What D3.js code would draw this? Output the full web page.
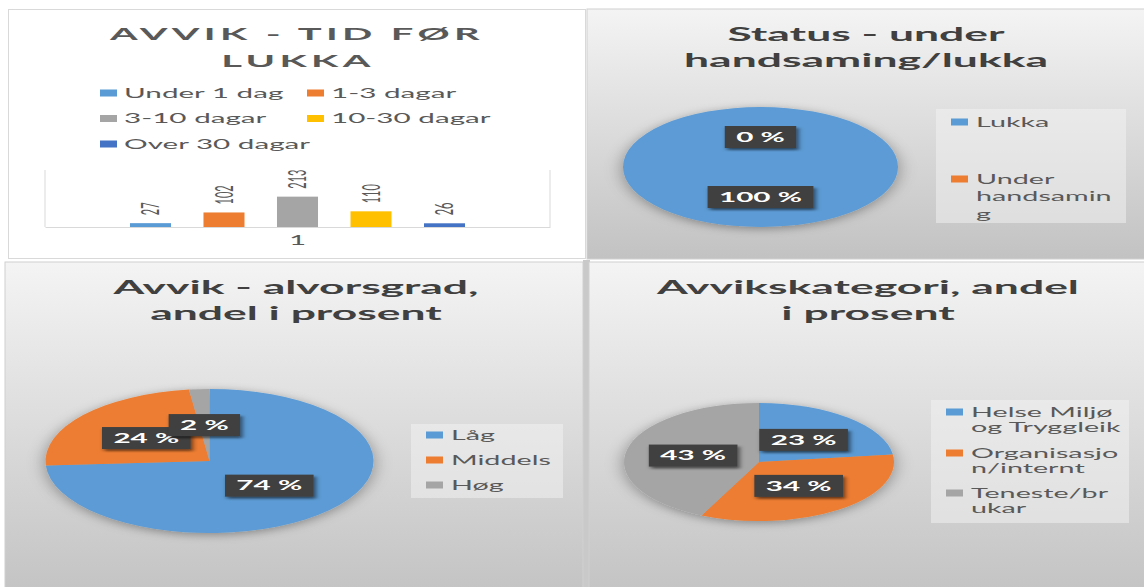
<!DOCTYPE html>
<html>
<head>
<meta charset="utf-8">
<script src="https://cdn.jsdelivr.net/npm/d3@7"></script>
<style>
  html, body { margin: 0; padding: 0; background: #ffffff; }
  svg { display: block; font-family: Lato, "Open Sans", sans-serif; }
</style>
</head>
<body>
<div id="chart"></div>
<script>
// --- data ---
const barCategory = ['1'];
const barSeries = ['Under 1 dag', '1-3 dagar', '3-10 dagar', '10-30 dagar', 'Over 30 dagar'];
const barValues = [27, 102, 213, 110, 26];
const barColors = ['#5B9BD5', '#ED7D31', '#A5A5A5', '#FFC000', '#4472C4'];

const statusLabels = ['Lukka', 'Under handsaming'];
const statusValues = [100, 0];
const statusLegendLines = [['Lukka'], ['Under', 'handsamin', 'g']];

const severityLabels = ['Låg', 'Middels', 'Høg'];
const severityValues = [74, 24, 2];
const severityLegendLines = [['Låg'], ['Middels'], ['Høg']];

const categoryLabels = ['Helse Miljø og Tryggleik', 'Organisasjon/internt', 'Teneste/brukar'];
const categoryValues = [23, 34, 43];
const categoryLegendLines = [['Helse Miljø', 'og Tryggleik'], ['Organisasjo', 'n/internt'], ['Teneste/br', 'ukar']];

const pieColors = ['#5B9BD5', '#ED7D31', '#A5A5A5'];

// the picture is stretched sideways, so text and pies get the same stretch
const SX = 2.28;
const W = 1144, H = 587;

const svg = d3.select('#chart').append('svg')
    .attr('width', W)
    .attr('height', H);

const defs = svg.append('defs');

const grad = defs.append('linearGradient')
    .attr('id', 'panelGrad')
    .attr('x1', 0).attr('y1', 0).attr('x2', 0).attr('y2', 1);
grad.append('stop').attr('offset', '0%').attr('stop-color', '#f4f4f4');
grad.append('stop').attr('offset', '100%').attr('stop-color', '#c2c2c2');

const pieShadow = defs.append('filter').attr('id', 'pieShadow')
    .attr('x', '-20%').attr('y', '-20%').attr('width', '140%').attr('height', '150%');
pieShadow.append('feDropShadow')
    .attr('dx', 0).attr('dy', 2).attr('stdDeviation', 4)
    .attr('flood-color', '#000').attr('flood-opacity', 0.35);

const boxShadow = defs.append('filter').attr('id', 'boxShadow')
    .attr('x', '-20%').attr('y', '-30%').attr('width', '150%').attr('height', '180%');
boxShadow.append('feDropShadow')
    .attr('dx', 1).attr('dy', 2).attr('stdDeviation', 1.2)
    .attr('flood-color', '#000').attr('flood-opacity', 0.55);

// --- panels ---
svg.append('rect').attr('x', 583).attr('y', 260).attr('width', 7).attr('height', 340).attr('fill', '#c9c9c9');

svg.append('rect')
    .attr('x', 8.5).attr('y', 9.5).attr('width', 577).attr('height', 249)
    .attr('fill', '#ffffff').attr('stroke', '#d9d9d9');

[
    { x: 587, y: 9, w: 570, h: 250 },
    { x: 5, y: 262, w: 578, h: 340 },
    { x: 589, y: 262, w: 570, h: 340 }
].forEach(p => {
    svg.append('rect')
        .attr('x', p.x).attr('y', p.y).attr('width', p.w).attr('height', p.h)
        .attr('fill', 'url(#panelGrad)')
        .attr('stroke', '#d0d0d0');
});

// text helper: stretched horizontally like the reference
function sText(parent, x, y, txt, opts = {}) {
    return parent.append('text')
        .attr('transform', `translate(${x},${y}) scale(${SX},1)`)
        .attr('text-anchor', opts.anchor || 'start')
        .attr('font-size', opts.size || 13)
        .attr('font-weight', opts.weight || 'normal')
        .attr('letter-spacing', opts.spacing || 0)
        .attr('fill', opts.fill || '#595959')
        .text(txt);
}

// --- panel 1: bar chart ---
const barG = svg.append('g').attr('class', 'bar-chart');

sText(barG, 297, 40, 'AVVIK - TID FØR', { anchor: 'middle', size: 17.5, spacing: 1.9, weight: 'bold' });
sText(barG, 298, 67, 'LUKKA', { anchor: 'middle', size: 17.5, spacing: 1.9, weight: 'bold' });

const barLegendX = [100, 307];
const barLegendY = [93, 118.5, 144];
barSeries.forEach((s, i) => {
    const lx = barLegendX[i % 2];
    const ly = barLegendY[Math.floor(i / 2)];
    barG.append('rect')
        .attr('x', lx).attr('y', ly - 3.5).attr('width', 17).attr('height', 7)
        .attr('fill', barColors[i]);
    sText(barG, lx + 24, ly + 4.5, s, { size: 13 });
});

const x0 = d3.scaleBand().domain(barCategory).range([45, 550]).paddingOuter(0.187);
const x1 = d3.scaleBand().domain(barSeries).range([0, x0.bandwidth()])
    .paddingInner(0.442).paddingOuter(0.221);
const y = d3.scaleLinear().domain([0, 400]).range([227, 170]);

// plot area side lines
x0.range().forEach(xv => {
    barG.append('line')
        .attr('x1', xv).attr('x2', xv)
        .attr('y1', y(400)).attr('y2', y(0))
        .attr('stroke', '#d9d9d9');
});

barG.selectAll('rect.bar')
    .data(barValues)
    .enter()
    .append('rect')
    .attr('class', 'bar')
    .attr('x', (d, i) => x0('1') + x1(barSeries[i]))
    .attr('y', d => y(d))
    .attr('width', x1.bandwidth())
    .attr('height', d => y(0) - y(d))
    .attr('fill', (d, i) => barColors[i]);

barG.selectAll('text.bar-label')
    .data(barValues)
    .enter()
    .append('text')
    .attr('class', 'bar-label')
    .attr('transform', (d, i) => {
        const cx = x0('1') + x1(barSeries[i]) + x1.bandwidth() / 2;
        return `translate(${cx},${y(d) - 8}) scale(${SX},1) rotate(-90)`;
    })
    .attr('dy', '0.35em')
    .attr('font-size', 11)
    .attr('fill', '#595959')
    .text(d => d);

const xAxis = barG.append('g')
    .attr('transform', `translate(0,${y(0)})`)
    .call(d3.axisBottom(x0).tickSize(0).tickPadding(9));
xAxis.select('.domain').attr('stroke', '#d9d9d9');
xAxis.selectAll('text')
    .attr('transform', `scale(${SX},1)`)
    .attr('font-family', 'Lato, sans-serif')
    .attr('font-size', 13)
    .attr('fill', '#595959');

// --- pie panels ---
function drawPie(cfg) {
    const g = svg.append('g').attr('class', 'pie-panel');

    cfg.title.forEach((line, i) => {
        sText(g, cfg.titleX, cfg.titleY + i * 25.5, line, { anchor: 'middle', size: 19.5, weight: 'bold', fill: '#404040' });
    });

    const pie = d3.pie().sort(null).value(d => d);
    const arcs = pie(cfg.values);
    const r = cfg.ry;
    const sxPie = cfg.rx / cfg.ry;
    const arc = d3.arc().innerRadius(0).outerRadius(r);

    g.append('g')
        .attr('transform', `translate(${cfg.cx},${cfg.cy}) scale(${sxPie},1)`)
        .attr('filter', 'url(#pieShadow)')
        .selectAll('path')
        .data(arcs)
        .enter()
        .append('path')
        .attr('d', arc)
        .attr('fill', (d, i) => pieColors[i]);

    // data labels: dark boxes at the slice centroid
    arcs.forEach((a) => {
        const c = arc.centroid(a);
        const lx = cfg.cx + c[0] * sxPie;
        const ly = cfg.cy + c[1];
        const lg = g.append('g')
            .attr('transform', `translate(${lx},${ly}) scale(${SX},1)`);
        const box = lg.append('rect').attr('fill', '#404040').attr('filter', 'url(#boxShadow)');
        const t = lg.append('text')
            .attr('text-anchor', 'middle')
            .attr('dy', '0.36em')
            .attr('font-size', 13)
            .attr('font-weight', 'bold')
            .attr('fill', '#ffffff')
            .text(`${a.data} %`);
        const tw = t.node().getComputedTextLength();
        box.attr('x', -tw / 2 - 5).attr('y', -11).attr('width', tw + 10).attr('height', 22);
    });

    // legend
    const lb = cfg.legendBox;
    g.append('rect')
        .attr('x', lb.x).attr('y', lb.y).attr('width', lb.w).attr('height', lb.h)
        .attr('fill', '#f4f4f4').attr('fill-opacity', 0.5);
    cfg.legendLines.forEach((lines, i) => {
        const ly = cfg.legendY[i];
        g.append('rect')
            .attr('x', cfg.legendX).attr('y', ly - 3.5).attr('width', 17).attr('height', 7)
            .attr('fill', pieColors[i]);
        lines.forEach((ln, j) => {
            sText(g, cfg.legendX + 25, ly + 4.5 + j * cfg.lineH, ln, { size: 12.6 });
        });
    });
}

drawPie({
    title: ['Status - under', 'handsaming/lukka'],
    titleX: 866, titleY: 41,
    values: statusValues,
    cx: 760.5, cy: 167, rx: 137.5, ry: 60,
    legendBox: { x: 936, y: 109, w: 190, h: 114 },
    legendX: 951, legendY: [122, 179], lineH: 17.5,
    legendLines: statusLegendLines
});

drawPie({
    title: ['Avvik - alvorsgrad,', 'andel i prosent'],
    titleX: 296, titleY: 294,
    values: severityValues,
    cx: 209.5, cy: 461, rx: 164, ry: 72,
    legendBox: { x: 411, y: 424, w: 152, h: 74 },
    legendX: 426, legendY: [435, 460, 485], lineH: 16,
    legendLines: severityLegendLines
});

drawPie({
    title: ['Avvikskategori, andel', 'i prosent'],
    titleX: 868, titleY: 294,
    values: categoryValues,
    cx: 759, cy: 462, rx: 135, ry: 59,
    legendBox: { x: 931, y: 400, w: 198, h: 123 },
    legendX: 946, legendY: [412, 453, 493], lineH: 15.5,
    legendLines: categoryLegendLines
});
</script>
</body>
</html>
